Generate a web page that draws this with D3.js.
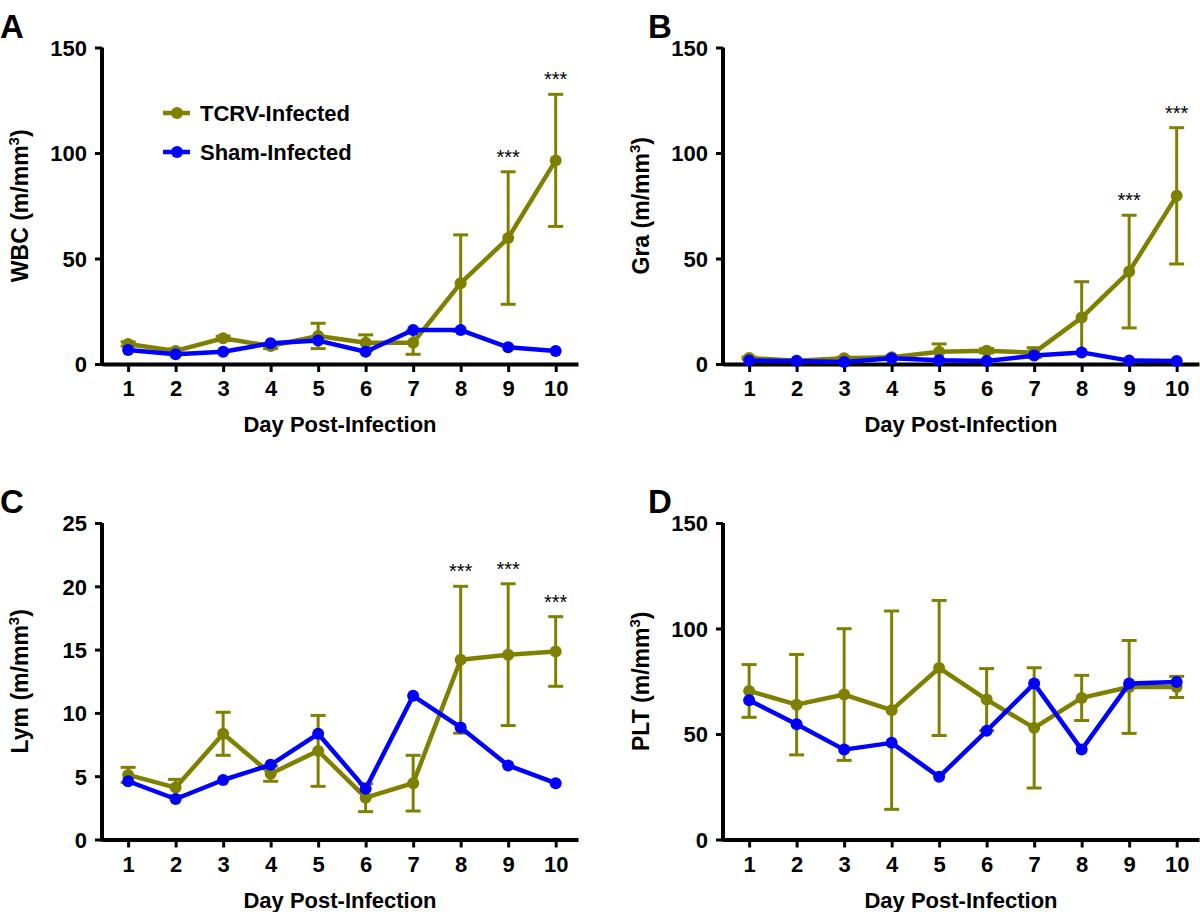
<!DOCTYPE html>
<html>
<head>
  <meta charset="utf-8">
  <title>Hematology after TCRV infection</title>
  <script src="https://cdn.jsdelivr.net/npm/d3@7"></script>
  <style>
    html, body {
      margin: 0;
      background: #fff;
    }
    svg {
      font-family: "Liberation Sans", Arial, Helvetica, sans-serif;
      display: block;
    }
  </style>
</head>
<body>
<svg id="chart" width="1200" height="912"></svg>
<script>
  // ---- data ----
  var days = [1, 2, 3, 4, 5, 6, 7, 8, 9, 10];
  var seriesNames = ["TCRV-Infected", "Sham-Infected"];

  var wbcTcrv   = [9.5, 6.2, 12.2, 8.5, 13.3, 10.1, 10.1, 38.3, 59.7, 96.5];
  var wbcTcrvSd = [1.0, 1.0, 1.0, 1.2, 6.0, 3.7, 5.5, 22.9, 31.4, 31.3];
  var wbcSham   = [6.6, 4.6, 5.8, 9.8, 11.1, 5.8, 16.1, 16.1, 7.9, 6.2];
  var wbcStars  = [9, 10];

  var graTcrv   = [2.8, 1.6, 2.7, 3.2, 5.8, 6.3, 5.4, 22.0, 43.8, 79.7];
  var graTcrvSd = [0.5, 0.3, 0.5, 0.5, 3.7, 1.0, 2.3, 17.0, 26.7, 32.3];
  var graSham   = [1.6, 1.4, 0.9, 2.7, 1.8, 1.4, 4.0, 5.5, 1.6, 1.4];
  var graStars  = [9, 10];

  var lymTcrv   = [5.1, 4.1, 8.35, 5.2, 7.0, 3.3, 4.45, 14.2, 14.6, 14.85];
  var lymTcrvSd = [0.6, 0.65, 1.7, 0.6, 2.8, 1.1, 2.2, 5.8, 5.6, 2.75];
  var lymSham   = [4.6, 3.2, 4.7, 5.9, 8.35, 4.0, 11.35, 8.85, 5.85, 4.45];
  var lymStars  = [8, 9, 10];

  var pltTcrv   = [70.4, 63.9, 68.7, 61.3, 81.3, 66.3, 52.9, 67.1, 72.3, 72.3];
  var pltTcrvSd = [12.5, 23.8, 31.2, 47.0, 32.0, 14.7, 28.5, 10.7, 22.0, 5.0];
  var pltSham   = [66.0, 54.6, 42.6, 45.8, 29.7, 51.5, 73.9, 42.6, 73.9, 74.7];
  var pltStars  = [];

  var ticks150 = [0, 50, 100, 150];
  var ticks25  = [0, 5, 10, 15, 20, 25];

  var olive = "#808000",
      blue  = "#0000ff";

  var svg = d3.select("#chart");
  svg.append("rect").attr("width", 1200).attr("height", 912).attr("fill", "#fff");

  function drawPanel(p) {
    var x = d3.scaleLinear().domain([0.45, 10.47]).range([p.left, p.right]);
    var y = d3.scaleLinear().domain([0, p.max]).range([p.bottom, p.top]);
    var g = svg.append("g");

    // x axis
    var xa = g.append("g")
        .attr("transform", "translate(0," + p.bottom + ")")
        .call(d3.axisBottom(x).tickValues(days).tickSize(8).tickSizeOuter(0));
    xa.select(".domain").attr("stroke", "#000").attr("stroke-width", 4);
    xa.selectAll(".tick line").attr("stroke", "#000").attr("stroke-width", 3);
    xa.selectAll(".tick text")
        .attr("y", 32).attr("dy", null)
        .attr("font-size", 22).attr("font-weight", "bold").attr("fill", "#000");

    // y axis
    var ya = g.append("g")
        .attr("transform", "translate(" + p.left + ",0)")
        .call(d3.axisLeft(y).tickValues(p.ticks).tickSize(7).tickSizeOuter(0));
    ya.select(".domain").attr("stroke", "#000").attr("stroke-width", 4)
        .attr("d", "M0," + (p.bottom + 2) + "V" + p.top);
    ya.selectAll(".tick line").attr("stroke", "#000").attr("stroke-width", 3);
    ya.selectAll(".tick text")
        .attr("x", -15).attr("dy", "0.36em")
        .attr("font-size", 22).attr("font-weight", "bold").attr("fill", "#000");

    // axis titles
    g.append("text")
        .attr("x", (p.left + (p.axisEnd || p.right)) / 2)
        .attr("y", p.bottom + 68)
        .attr("text-anchor", "middle")
        .attr("font-size", 22).attr("font-weight", "bold")
        .text("Day Post-Infection");

    var yl = g.append("text")
        .attr("transform", "translate(" + (p.left - 74) + "," + ((p.top + p.bottom) / 2) + ") rotate(-90)")
        .attr("text-anchor", "middle")
        .attr("font-size", 23).attr("font-weight", "bold");
    yl.append("tspan").text(p.label + " (m/mm");
    yl.append("tspan").attr("dy", -9).attr("font-size", 15).text("3");
    yl.append("tspan").attr("dy", 9).text(")");

    // panel letter
    g.append("text")
        .attr("x", p.left - 102 + p.letterDx)
        .attr("y", p.top - 10)
        .attr("font-size", 33).attr("font-weight", "bold")
        .text(p.letter);

    // error bars (TCRV)
    var eb = g.append("g").attr("stroke", olive).attr("stroke-width", 3);
    days.forEach(function (d, i) {
      var hi = y(p.tcrv[i] + p.sd[i]), lo = y(Math.max(0, p.tcrv[i] - p.sd[i])), cx = x(d);
      eb.append("line").attr("x1", cx).attr("x2", cx).attr("y1", hi).attr("y2", lo);
      eb.append("line").attr("x1", cx - 7.5).attr("x2", cx + 7.5).attr("y1", hi).attr("y2", hi);
      eb.append("line").attr("x1", cx - 7.5).attr("x2", cx + 7.5).attr("y1", lo).attr("y2", lo);
    });

    var line = d3.line().x(function (d, i) { return x(days[i]); }).y(function (d) { return y(d); });

    [[p.tcrv, olive], [p.sham, blue]].forEach(function (s) {
      g.append("path")
          .attr("d", line(s[0]))
          .attr("fill", "none")
          .attr("stroke", s[1])
          .attr("stroke-width", 4.5)
          .attr("stroke-linejoin", "round");
      g.selectAll(null)
        .data(s[0])
        .enter().append("circle")
          .attr("cx", function (d, i) { return x(days[i]); })
          .attr("cy", function (d) { return y(d); })
          .attr("r", 6)
          .attr("fill", s[1]);
    });

    // significance
    p.stars.forEach(function (d) {
      var i = days.indexOf(d);
      g.append("text")
          .attr("x", x(d))
          .attr("y", y(p.tcrv[i] + p.sd[i]) - 8)
          .attr("text-anchor", "middle")
          .attr("font-size", 20)
          .text("***");
    });
    return { x: x, y: y, g: g };
  }

  var pa = drawPanel({ letter: "A", letterDx: 0, label: "WBC", left: 102, right: 578, axisEnd: 578,
    top: 47.5, bottom: 364, max: 150, ticks: ticks150,
    tcrv: wbcTcrv, sd: wbcTcrvSd, sham: wbcSham, stars: wbcStars });
  drawPanel({ letter: "B", letterDx: 27, label: "Gra", left: 723, right: 1199, axisEnd: 1199,
    top: 47.5, bottom: 364, max: 150, ticks: ticks150,
    tcrv: graTcrv, sd: graTcrvSd, sham: graSham, stars: graStars });
  drawPanel({ letter: "C", letterDx: 0, label: "Lym", left: 102, right: 578, axisEnd: 578,
    top: 523, bottom: 839.5, max: 25, ticks: ticks25,
    tcrv: lymTcrv, sd: lymTcrvSd, sham: lymSham, stars: lymStars });
  drawPanel({ letter: "D", letterDx: 27, label: "PLT", left: 723, right: 1199, axisEnd: 1199,
    top: 523, bottom: 839.5, max: 150, ticks: ticks150,
    tcrv: pltTcrv, sd: pltTcrvSd, sham: pltSham, stars: pltStars });

  // legend (panel A)
  var legend = svg.append("g").attr("transform", "translate(163,0)");
  [[seriesNames[0], olive, 113], [seriesNames[1], blue, 152]].forEach(function (l) {
    legend.append("line").attr("x1", 0).attr("x2", 27).attr("y1", l[2]).attr("y2", l[2])
        .attr("stroke", l[1]).attr("stroke-width", 4.5);
    legend.append("circle").attr("cx", 14).attr("cy", l[2]).attr("r", 6).attr("fill", l[1]);
    legend.append("text").attr("x", 37).attr("y", l[2]).attr("dy", "0.36em")
        .attr("font-size", 22).attr("font-weight", "bold").text(l[0]);
  });
</script>
</body>
</html>
